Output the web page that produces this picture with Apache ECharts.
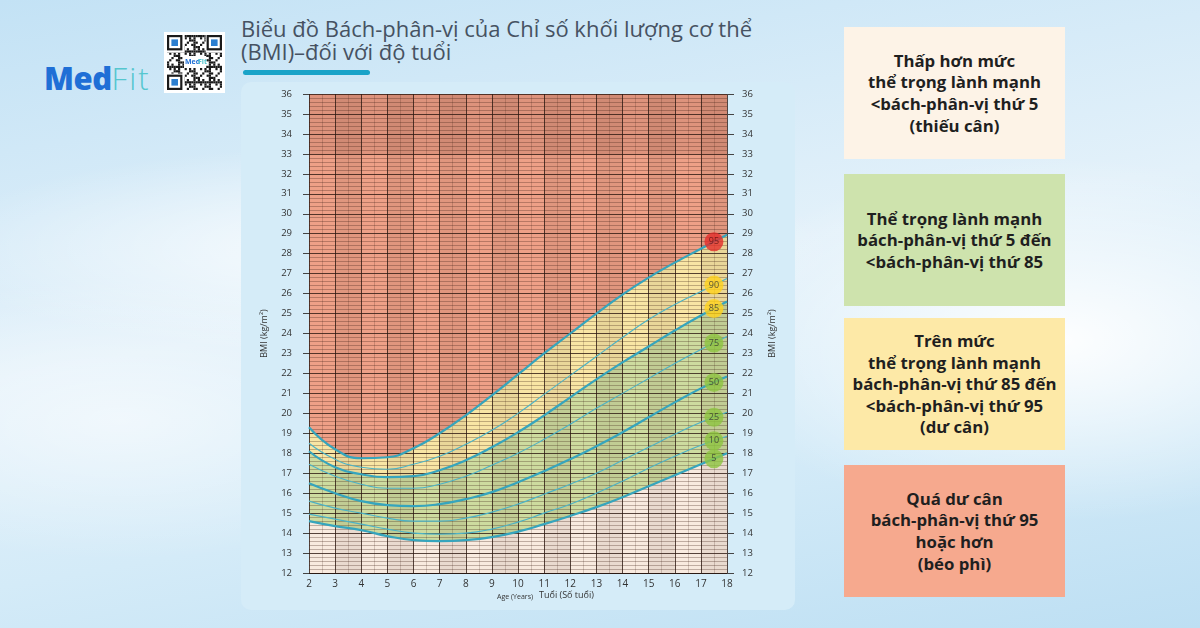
<!DOCTYPE html>
<html>
<head>
<meta charset="utf-8">
<script src="https://cdn.jsdelivr.net/npm/echarts@6/dist/echarts.min.js"></script>
<style>
  html, body { margin: 0; padding: 0; }
  body {
    width: 1200px; height: 628px; position: relative; overflow: hidden;
    font-family: 'Open Sans', sans-serif;
    background:
      radial-gradient(ellipse 650px 150px at 380px 250px, rgba(255,255,255,0.8), rgba(255,255,255,0) 70%),
      radial-gradient(ellipse 520px 260px at 1060px 340px, rgba(255,255,255,0.95), rgba(255,255,255,0) 70%),
      radial-gradient(ellipse 500px 200px at 120px 420px, rgba(255,255,255,0.55), rgba(255,255,255,0) 70%),
      linear-gradient(170deg, #c3e2f5 0%, #e3f1fa 45%, #d4ebf8 70%, #bddff3 100%);
  }
  .panel { position: absolute; left: 241px; top: 82px; width: 554px; height: 528px; border-radius: 10px; background: #d5ecf8; }
  .title { position: absolute; left: 241px; top: 17px; font-size: 22px; line-height: 23px; color: #465262; white-space: nowrap; }
  .bar { position: absolute; left: 243px; top: 70px; width: 127px; height: 5px; border-radius: 3px; background: #1aa3c8; }
  .logo { position: absolute; left: 44px; top: 58px; font-size: 31px; line-height: 40px; letter-spacing: -0.5px; }
  .logo .m { color: #1f6fd6; font-weight: 800; }
  .logo .f { color: #55c6cf; font-weight: 300; letter-spacing: 2px; }
  #qr { position: absolute; left: 164px; top: 32px; }
  .box { position: absolute; left: 844px; width: 221px; height: 132px; display: flex; align-items: center; justify-content: center;
         text-align: center; font-weight: 700; font-size: 16.8px; line-height: 21.6px; color: #1f1f1f; }
  #chart { position: absolute; left: 0; top: 0; width: 1200px; height: 628px; }
</style>
</head>
<body>
<div class="panel"></div>
<div class="title">Biểu đồ Bách-phân-vị của Chỉ số khối lượng cơ thể<br>(BMI)–đối với độ tuổi</div>
<div class="bar"></div>
<div class="logo"><span class="m">Med</span><span class="f">Fit</span></div>
<canvas id="qr" width="61" height="61"></canvas>

<div class="box" style="top:27px;background:#fdf3e7;">Thấp hơn mức<br>thể trọng lành mạnh<br>&lt;bách-phân-vị thứ 5<br>(thiếu cân)</div>
<div class="box" style="top:174px;background:#cee3ad;">Thể trọng lành mạnh<br>bách-phân-vị thứ 5 đến<br>&lt;bách-phân-vị thứ 85</div>
<div class="box" style="top:318px;background:#fde9a7;">Trên mức<br>thể trọng lành mạnh<br>bách-phân-vị thứ 85 đến<br>&lt;bách-phân-vị thứ 95<br>(dư cân)</div>
<div class="box" style="top:465px;background:#f6a98e;">Quá dư cân<br>bách-phân-vị thứ 95<br>hoặc hơn<br>(béo phì)</div>

<div id="chart"></div>

<script>
// tuổi (năm)
const ages = [2, 3, 4, 5, 6, 7, 8, 9, 10, 11, 12, 13, 14, 15, 16, 17, 18];

// BMI theo bách-phân-vị
const p95 = [19.3, 18.2, 17.75, 17.8, 18.25, 19.0, 19.9, 20.9, 21.95, 23.0, 24.0, 25.0, 25.95, 26.8, 27.55, 28.25, 28.95];
const p90 = [18.5, 17.7, 17.3, 17.2, 17.45, 17.85, 18.45, 19.15, 20.0, 20.95, 21.9, 22.85, 23.8, 24.7, 25.45, 26.1, 26.75];
const p85 = [18.1, 17.3, 16.95, 16.8, 16.85, 17.15, 17.65, 18.3, 19.05, 19.9, 20.8, 21.7, 22.55, 23.35, 24.15, 24.9, 25.6];
const p75 = [17.45, 16.85, 16.45, 16.25, 16.25, 16.45, 16.85, 17.4, 18.0, 18.7, 19.45, 20.25, 21.0, 21.75, 22.5, 23.2, 23.85];
const p50 = [16.5, 16.0, 15.6, 15.4, 15.35, 15.45, 15.7, 16.05, 16.55, 17.1, 17.7, 18.35, 19.05, 19.8, 20.55, 21.25, 21.85];
const p25 = [15.6, 15.25, 15.0, 14.75, 14.6, 14.6, 14.75, 15.05, 15.45, 15.95, 16.45, 17.0, 17.65, 18.3, 18.95, 19.55, 20.05];
const p10 = [14.95, 14.7, 14.45, 14.2, 14.0, 13.95, 14.0, 14.2, 14.55, 15.0, 15.45, 16.0, 16.6, 17.25, 17.85, 18.4, 18.85];
const p5 = [14.6, 14.35, 14.15, 13.85, 13.65, 13.6, 13.65, 13.8, 14.07, 14.45, 14.86, 15.3, 15.8, 16.35, 16.9, 17.45, 18.0];

// trục
const bmiMin = 12;
const bmiMax = 36;
const badgeAge = 17.5;

const curves = [
  { name: '95', data: p95, thick: true, badge: '#e42d2a' },
  { name: '90', data: p90, thick: false, badge: '#ffd21c' },
  { name: '85', data: p85, thick: true, badge: '#ffd21c' },
  { name: '75', data: p75, thick: false, badge: '#8dc440' },
  { name: '50', data: p50, thick: true, badge: '#8dc440' },
  { name: '25', data: p25, thick: false, badge: '#8dc440' },
  { name: '10', data: p10, thick: false, badge: '#8dc440' },
  { name: '5', data: p5, thick: true, badge: '#8dc440' },
];

const pairs = (arr) => ages.map((a, i) => [a, arr[i]]);

// QR trang trí
(function drawQr() {
  const c = document.getElementById('qr').getContext('2d');
  c.fillStyle = '#fff';
  c.fillRect(0, 0, 61, 61);
  const n = 25, s = 2.2, o = 3;
  c.fillStyle = '#1a1a1a';
  for (let i = 0; i < n; i++) {
    for (let j = 0; j < n; j++) {
      if (((i * 7 + j * 13 + i * j * 3) % 7) < 3) c.fillRect(o + i * s, o + j * s, s, s);
    }
  }
  const finder = (x, y) => {
    c.fillStyle = '#fff'; c.fillRect(o + x * s - 1, o + y * s - 1, 8 * s + 1, 8 * s + 1);
    c.fillStyle = '#1a1a1a'; c.fillRect(o + x * s, o + y * s, 7 * s, 7 * s);
    c.fillStyle = '#fff'; c.fillRect(o + (x + 1) * s, o + (y + 1) * s, 5 * s, 5 * s);
    c.fillStyle = '#2c7fd0'; c.fillRect(o + (x + 2) * s, o + (y + 2) * s, 3 * s, 3 * s);
  };
  finder(0, 0); finder(18, 0); finder(0, 18);
  c.fillStyle = '#fff'; c.fillRect(20, 24, 22, 12);
  c.font = 'bold 7px "Open Sans"';
  c.fillStyle = '#1f6fd6'; c.fillText('Med', 21, 32);
  c.fillStyle = '#55c6cf'; c.fillText('Fit', 34, 32);
})();

const chart = echarts.init(document.getElementById('chart'));

const areaSeries = [
  { data: p95, color: '#f8e5a4' },
  { data: p85, color: '#cddb9f' },
  { data: p5, color: '#f8eadf' },
].map((a, idx) => ({
  type: 'line',
  data: pairs(a.data),
  smooth: 0.5,
  symbol: 'none',
  silent: true,
  z: 1,
  lineStyle: { width: 0 },
  areaStyle: { color: a.color, opacity: 1, origin: 'start' },
  markArea: idx === 0 ? {
    silent: true,
    itemStyle: { color: 'rgba(110,60,50,0.12)' },
    data: [[{ yAxis: 33 }, { yAxis: 36 }]],
  } : undefined,
}));

const lineSeries = curves.map((c) => ({
  type: 'line',
  name: c.name,
  data: pairs(c.data),
  smooth: 0.5,
  symbol: 'none',
  silent: true,
  z: 10,
  lineStyle: { color: c.thick ? '#36a5bd' : '#4cb3c6', width: c.thick ? 2.2 : 1.1 },
}));

// nhãn tròn ở tuổi 17.5, nằm trên mỗi đường
const badgeData = curves.map((c) => {
  const i = ages.indexOf(17);
  const v = (c.data[i] + c.data[i + 1]) / 2;
  return {
    name: c.name,
    value: [badgeAge, v],
    itemStyle: { color: c.badge },
    label: { color: c.name === '95' ? '#5a1212' : '#333' },
  };
});

const option = {
  animation: false,
  grid: {
    left: 309, top: 94, width: 418, height: 479,
    show: true, backgroundColor: '#eea087', borderWidth: 0,
  },
  xAxis: {
    type: 'value', min: 2, max: 18, interval: 1, z: 3,
    axisLine: { show: true, onZero: false, lineStyle: { color: '#2b1a14', width: 1.2 } },
    axisTick: { show: false },
    minorTick: { show: false, splitNumber: 2 },
    minorSplitLine: { show: true, lineStyle: { color: 'rgba(60,30,20,0.2)', width: 1 } },
    splitLine: { show: true, lineStyle: { color: 'rgba(45,25,18,0.8)', width: 1 } },
    splitArea: { show: true, areaStyle: { color: ['rgba(0,0,0,0)', 'rgba(70,40,30,0.08)'] } },
    axisLabel: { color: '#333', fontSize: 10, margin: 6, fontFamily: 'Open Sans' },
  },
  yAxis: [
    {
      type: 'value', min: bmiMin, max: bmiMax, interval: 1, position: 'left', z: 3,
      name: 'BMI (kg/m²)', nameLocation: 'middle', nameGap: 40, nameRotate: 90,
      nameTextStyle: { fontSize: 9, color: '#333', fontFamily: 'Open Sans' },
      axisLine: { show: false },
      axisTick: { show: true, length: 6, lineStyle: { color: '#444' } },
      axisLabel: { color: '#333', fontSize: 9.5, margin: 17, fontFamily: 'Open Sans' },
      minorTick: { show: false, splitNumber: 5 },
      minorSplitLine: { show: true, lineStyle: { color: 'rgba(60,30,20,0.3)', width: 1 } },
      splitLine: { show: true, lineStyle: { color: 'rgba(45,25,18,0.8)', width: 1 } },
    },
    {
      type: 'value', min: bmiMin, max: bmiMax, interval: 1, position: 'right', z: 3,
      name: 'BMI (kg/m²)', nameLocation: 'middle', nameGap: 41, nameRotate: 90,
      nameTextStyle: { fontSize: 9, color: '#333', fontFamily: 'Open Sans' },
      axisLine: { show: false },
      axisTick: { show: true, length: 7, lineStyle: { color: '#444' } },
      axisLabel: { color: '#333', fontSize: 9.5, margin: 15, fontFamily: 'Open Sans' },
      splitLine: { show: false },
    },
  ],
  graphic: [
    { type: 'text', left: 497, top: 593, style: { text: 'Age (Years)', fontSize: 7, fill: '#333', fontFamily: 'Open Sans' } },
    { type: 'text', left: 539, top: 591, style: { text: 'Tuổi (Số tuổi)', fontSize: 9, fill: '#333', fontFamily: 'Open Sans' } },
  ],
  series: [
    ...areaSeries,
    ...lineSeries,
    {
      type: 'scatter',
      data: badgeData,
      symbolSize: 19,
      z: 12,
      silent: true,
      label: { show: true, position: 'inside', formatter: '{b}', fontSize: 9, fontFamily: 'Open Sans' },
    },
  ],
};

chart.setOption(option);
</script>
</body>
</html>
